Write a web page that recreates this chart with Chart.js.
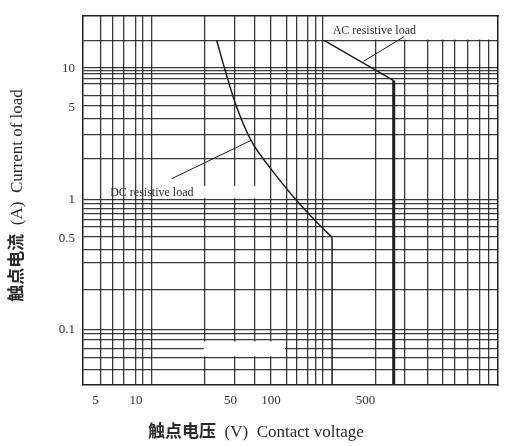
<!DOCTYPE html>
<html>
<head>
<meta charset="utf-8">
<script src="https://cdn.jsdelivr.net/npm/chart.js@4.4.1/dist/chart.umd.min.js"></script>
<style>
  body { margin: 0; background: #fff; }
  canvas { display: block; }
</style>
</head>
<body>
<canvas id="loadChart" width="506" height="446"></canvas>
<script>
// axis ranges (V, A)
const xMin = 4.04, xMax = 4800;
const yMin = 0.038, yMax = 25.3;

// grid lines as printed on the sheet (not a regular log grid)
const xGrid = [5.5, 6.7, 8.1, 10, 11.2, 13, 32.2, 53.5, 76, 100, 130, 154, 187, 215, 242,
               600, 980, 1440, 1860, 2310, 2880, 3500, 4120];
const xTickLabels = [5, 10, 50, 100, 500];
const yGrid = [0.0502, 0.0614, 0.0724, 0.0847, 0.0941, 0.101, 0.204, 0.325, 0.411, 0.52,
               0.62, 0.704, 0.774, 0.855, 0.933, 1, 2.04, 3.1, 4.17, 5.23, 6.16, 7.67,
               8.33, 9.09, 9.62, 10.2, 16.3];
const yTickLabels = [0.1, 0.5, 1, 5, 10];

// DC resistive load curve, then straight drop
const dcVoltage = [39.6, 45.6, 54.1, 71.1, 100, 150.6, 222.8, 283];
const dcCurrent = [16.3, 9.74, 5.48, 2.82, 1.70, 1.01, 0.652, 0.511];
// AC resistive load line, then straight drop
const acVoltage = [247, 810];
const acCurrent = [16.4, 8.08];

// leader lines from the labels to the curves
const dcLeaderVoltage = [18.4, 71.1];
const dcLeaderCurrent = [1.44, 2.82];
const acLeaderVoltage = [483, 966];
const acLeaderCurrent = [11.34, 17.5];

// blank patches where the scan has no grid: [v1, v2, i1, i2]
const blankPatches = [
  [247, xMax, 16.7, yMax],
  [31.2, 87.3, 1.02, 1.266],
  [31.6, 127, 0.063, 0.0818]
];

const curveLabels = [
  { text: 'DC resistive load', v: 6.42, i: 1.055 },
  { text: 'AC resistive load', v: 286, i: 18.4 }
];

const ink = '#1e1e1e';
const gridInk = 'rgba(25,25,25,0.85)';
const serif = '"Liberation Serif", "DejaVu Serif", serif';

function pts(xs, ys) {
  return xs.map((v, i) => ({ x: v, y: ys[i] }));
}

function lineSet(data, width, extra) {
  return Object.assign({
    data: data,
    borderColor: ink,
    borderWidth: width,
    pointRadius: 0,
    fill: false
  }, extra || {});
}

const datasets = [
  lineSet(pts(dcVoltage, dcCurrent), 1.5, { cubicInterpolationMode: 'monotone' }),
  lineSet(pts([283, 283], [0.511, yMin]), 1.5),
  lineSet(pts(acVoltage, acCurrent), 1.5),
  lineSet(pts([810, 810], [8.08, yMin]), 3),
  lineSet(pts(dcLeaderVoltage, dcLeaderCurrent), 1),
  lineSet(pts(acLeaderVoltage, acLeaderCurrent), 1)
];

blankPatches.forEach(p => {
  datasets.push({
    data: pts([p[0], p[1]], [p[3], p[3]]),
    borderWidth: 0,
    pointRadius: 0,
    backgroundColor: '#ffffff',
    fill: { value: p[2] }
  });
});

function tickList(grid, labels) {
  const all = Array.from(new Set(grid.concat(labels)));
  all.sort((a, b) => a - b);
  return all.map(v => ({ value: v }));
}

function drawTitle(ctx, parts, cx, cy, angle) {
  ctx.save();
  ctx.translate(cx, cy);
  ctx.rotate(angle);
  let total = 0;
  parts.forEach(p => { ctx.font = p.font; p.w = ctx.measureText(p.text).width; total += p.w; });
  let pos = -total / 2;
  ctx.textBaseline = 'alphabetic';
  ctx.textAlign = 'left';
  parts.forEach(p => { ctx.font = p.font; ctx.fillText(p.text, pos, 0); pos += p.w; });
  ctx.restore();
}

const textPlugin = {
  id: 'textPlugin',
  afterDraw(chart) {
    const { ctx, scales: { x, y }, chartArea } = chart;
    ctx.save();
    ctx.fillStyle = '#2a2a2a';
    ctx.font = '12px ' + serif;
    ctx.textBaseline = 'alphabetic';
    curveLabels.forEach(l => {
      ctx.fillText(l.text, x.getPixelForValue(l.v), y.getPixelForValue(l.i));
    });
    drawTitle(ctx, [
      { text: '触点电压', font: 'bold 17px "Noto Sans CJK SC"' },
      { text: '  (V)  Contact voltage', font: '17px ' + serif }
    ], chart.width / 2 + 3, 437, 0);
    drawTitle(ctx, [
      { text: '触点电流', font: 'bold 17px "Noto Sans CJK SC"' },
      { text: '  (A)  Current of load', font: '17px ' + serif }
    ], 21.5, (chartArea.top + chartArea.bottom) / 2 - 5, -Math.PI / 2);
    ctx.restore();
  }
};

const frame = { display: true, color: ink, width: 1.5, z: 1 };

new Chart(document.getElementById('loadChart'), {
  type: 'line',
  data: { datasets: datasets },
  options: {
    responsive: false,
    animation: false,
    layout: { padding: { left: 3, right: 8, top: 12, bottom: 0 } },
    plugins: { legend: { display: false }, tooltip: { enabled: false } },
    scales: {
      x: {
        type: 'logarithmic',
        position: 'bottom',
        min: xMin,
        max: xMax,
        afterBuildTicks: scale => { scale.ticks = tickList(xGrid, xTickLabels); },
        afterFit: scale => { scale.height = 61; },
        grid: {
          drawTicks: false,
          lineWidth: 1.3,
          color: c => (c.tick && xGrid.includes(c.tick.value)) ? gridInk : 'rgba(0,0,0,0)'
        },
        border: frame,
        ticks: {
          autoSkip: false,
          maxRotation: 0,
          padding: 8,
          color: '#333',
          font: { family: serif, size: 13 },
          callback: v => xTickLabels.includes(v) ? String(v) : ''
        }
      },
      y: {
        type: 'logarithmic',
        position: 'left',
        min: yMin,
        max: yMax,
        afterBuildTicks: scale => { scale.ticks = tickList(yGrid, yTickLabels); },
        afterFit: scale => { scale.width = 80; },
        grid: {
          drawTicks: false,
          lineWidth: 1.3,
          color: c => (c.tick && yGrid.includes(c.tick.value)) ? gridInk : 'rgba(0,0,0,0)'
        },
        border: frame,
        ticks: {
          autoSkip: false,
          padding: 8,
          color: '#333',
          font: { family: serif, size: 13 },
          callback: v => yTickLabels.includes(v) ? String(v) : ''
        }
      },
      x2: {
        type: 'linear',
        position: 'top',
        afterFit: scale => { scale.height = 0; },
        grid: { drawOnChartArea: false, drawTicks: false },
        border: frame,
        ticks: { display: false }
      },
      y2: {
        type: 'linear',
        position: 'right',
        afterFit: scale => { scale.width = 0; },
        grid: { drawOnChartArea: false, drawTicks: false },
        border: frame,
        ticks: { display: false }
      }
    }
  },
  plugins: [textPlugin]
});
</script>
</body>
</html>
